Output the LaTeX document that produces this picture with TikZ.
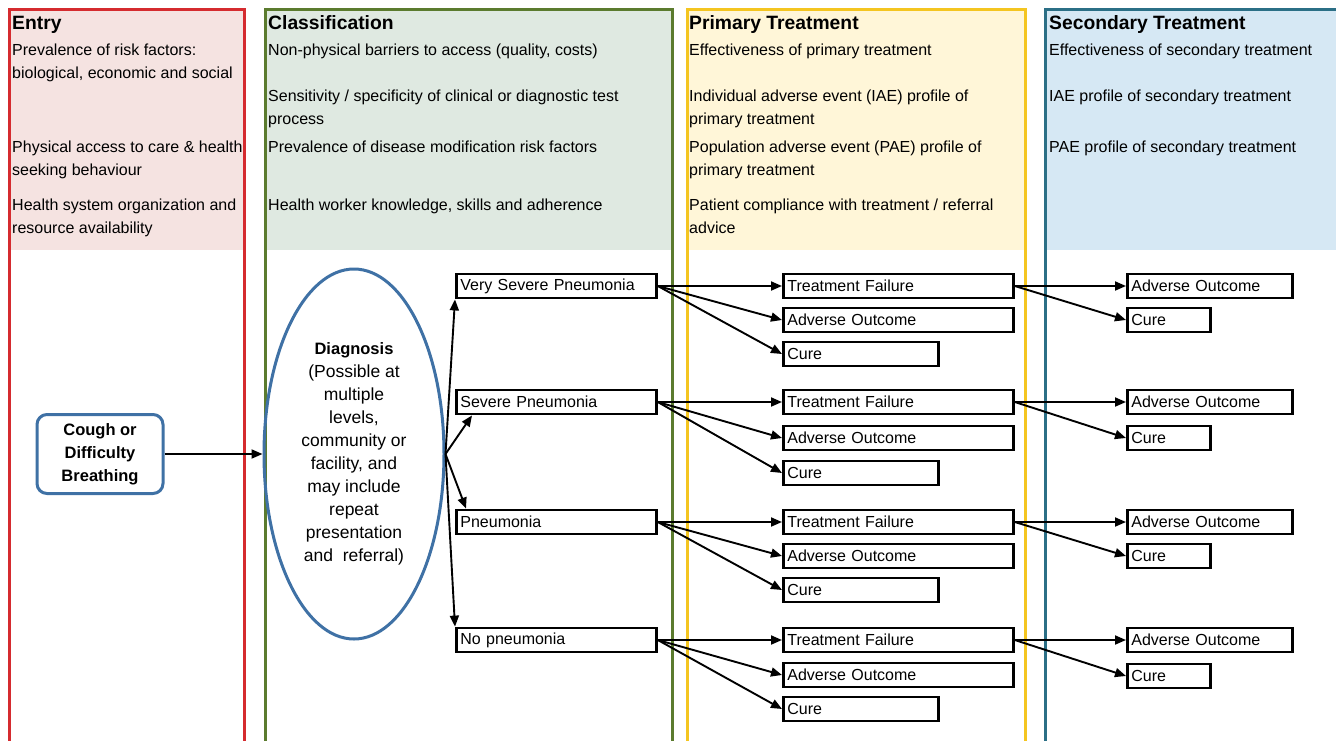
\documentclass[tikz,border=0pt]{standalone}
\usepackage{fontspec}
\setmainfont{Liberation Sans}
\usetikzlibrary{shapes.geometric,arrows.meta,calc}
\definecolor{entryred}{HTML}{D52B2F}
\definecolor{entryfill}{HTML}{F5E3E1}
\definecolor{classgreen}{HTML}{5B7B2E}
\definecolor{classfill}{HTML}{DFE9E1}
\definecolor{primyellow}{HTML}{F4C520}
\definecolor{primfill}{HTML}{FFF6D8}
\definecolor{secteal}{HTML}{2B6F86}
\definecolor{secfill}{HTML}{D6E8F4}
\definecolor{dblue}{HTML}{3F71A5}
\begin{document}
\begin{tikzpicture}[x=1pt,y=-1pt,
  hdr/.style={anchor=base west, inner sep=0pt, font=\fontsize{19.3}{22}\selectfont\bfseries},
  txt/.style={anchor=base west, inner sep=0pt, font=\fontsize{16}{19}\selectfont},
  box/.style={draw=black, line width=2.8pt, rectangle, anchor=west, align=left,
    inner xsep=4pt, inner ysep=0pt, minimum height=24pt, font=\fontsize{16}{19}\selectfont},
  arr/.style={line width=1.9pt, -{Triangle[length=11pt,width=9pt]}},
  colborder/.style={line width=3pt}]
\useasboundingbox (0,0) rectangle (1336,740);
\clip (0,0) rectangle (1336,740);
% column backgrounds
\fill[entryfill] (9,9) rectangle (244,250);
\fill[classfill] (265,9) rectangle (672,250);
\fill[primfill] (687,9) rectangle (1025,250);
\fill[secfill] (1045,9) rectangle (1345,250);
\draw[colborder, entryred] (9,770) -- (9,9) -- (244,9) -- (244,770);
\draw[colborder, classgreen] (265,770) -- (265,9) -- (672,9) -- (672,770);
\draw[colborder, primyellow] (687,770) -- (687,9) -- (1025,9) -- (1025,770);
\draw[colborder, secteal] (1045,770) -- (1045,9) -- (1345,9);
% headers
\node[hdr] (hEntry) at (12,29) {Entry};
\node[hdr] (hClass) at (268,29) {Classification};
\node[hdr] (hPrim) at (689,29) {Primary Treatment};
\node[hdr] (hSec) at (1049,29) {Secondary Treatment};
% Entry texts
\node[txt] (e1) at (12,55) {Prevalence of risk factors:};
\node[txt] (e2) at (12,78) {biological, economic and social};
\node[txt] (e3) at (12,152) {Physical access to care \& health};
\node[txt] (e4) at (12,175) {seeking behaviour};
\node[txt] (e5) at (12,210) {Health system organization and};
\node[txt] (e6) at (12,233) {resource availability};
% Classification texts
\node[txt] (c1) at (268,55) {Non-physical barriers to access (quality, costs)};
\node[txt] (c2) at (268,101) {Sensitivity / specificity of clinical or diagnostic test};
\node[txt] (c3) at (268,124) {process};
\node[txt] (c4) at (268,152) {Prevalence of disease modification risk factors};
\node[txt] (c5) at (268,210) {Health worker knowledge, skills and adherence};
% Primary texts
\node[txt] (p1) at (689,55) {Effectiveness of primary treatment};
\node[txt] (p2) at (689,101) {Individual adverse event (IAE) profile of};
\node[txt] (p3) at (689,124) {primary treatment};
\node[txt] (p4) at (689,152) {Population adverse event (PAE) profile of};
\node[txt] (p5) at (689,175) {primary treatment};
\node[txt] (p6) at (689,210) {Patient compliance with treatment / referral};
\node[txt] (p7) at (689,233) {advice};
% Secondary texts
\node[txt] (s1) at (1049,55) {Effectiveness of secondary treatment};
\node[txt] (s2) at (1049,101) {IAE profile of secondary treatment};
\node[txt] (s3) at (1049,152) {PAE profile of secondary treatment};
% Entry node and diagnosis
\node[draw=dblue, line width=3pt, rounded corners=10pt, minimum width=126pt, minimum height=79pt,
  inner sep=0pt, align=center, font=\fontsize{16.5}{23}\selectfont\bfseries] (cough) at (100,454)
  {Cough or\\Difficulty\\Breathing};
\node[ellipse, draw=dblue, line width=3pt, minimum width=180pt, minimum height=370pt, inner sep=0pt,
  align=center, font=\fontsize{17.5}{23}\selectfont] (diag) at (354,454)
  {{\fontsize{16.5}{23}\selectfont\bfseries Diagnosis}\\(Possible at\\multiple\\levels,\\community or\\facility, and\\may include\\repeat\\presentation\\and\ \ referral)};
\draw[arr] (cough.east) -- (diag.west);
% categories
\node[box, text width=192pt] (vsp) at (455,286) {Very Severe Pneumonia};
\node[box, text width=192pt] (sp) at (455,402) {Severe Pneumonia};
\node[box, text width=192pt] (pn) at (455,522) {Pneumonia};
\node[box, text width=192pt] (np) at (455,640) {No pneumonia};
\draw[arr] (diag.east) -- (vsp.south west);
\draw[arr] (diag.east) -- ($(sp.south west)+(17,0)$);
\draw[arr] (diag.east) -- ($(pn.north west)+(11,0)$);
\draw[arr] (diag.east) -- (np.north west);
% outcomes
\foreach \i/\c/\tf/\ao/\cu/\sc in {1/vsp/286/320/354/320, 2/sp/402/438/473/438, 3/pn/522/556/590/556, 4/np/640/675/709/676}{
  \node[box, text width=222pt] (tf\i) at (782,\tf) {Treatment Failure};
  \node[box, text width=222pt] (ao\i) at (782,\ao) {Adverse Outcome};
  \node[box, text width=147pt] (cu\i) at (782,\cu) {Cure};
  \node[box, text width=157pt] (sao\i) at (1126,\tf) {Adverse Outcome};
  \node[box, text width=75pt] (scu\i) at (1126,\sc) {Cure};
  \draw[arr] (\c.east) -- (tf\i.west);
  \draw[arr] (\c.east) -- (ao\i.west);
  \draw[arr] (\c.east) -- (cu\i.west);
  \draw[arr] (tf\i.east) -- (sao\i.west);
  \draw[arr] (tf\i.east) -- (scu\i.west);
}
\end{tikzpicture}
\end{document}
